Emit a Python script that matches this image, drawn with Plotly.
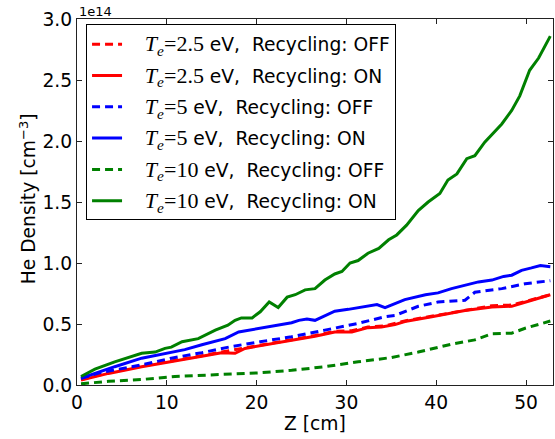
import plotly.graph_objects as go

# Values in units of 1e14 cm^-3
z_r_off = [0.45, 3.5, 7.2, 10.5, 13.9, 16.1, 17.6, 18.7, 22.0, 24.3, 26.5, 28.7, 30.6, 32.4, 34.3, 36.5, 39.5, 43.2, 46.2, 48.4, 50.6, 52.7]
n_r_off = [0.045, 0.10, 0.155, 0.195, 0.24, 0.27, 0.29, 0.30, 0.345, 0.375, 0.405, 0.44, 0.445, 0.475, 0.485, 0.525, 0.565, 0.615, 0.65, 0.655, 0.70, 0.74]

z_r_on = [0.45, 3.5, 7.2, 10.5, 13.9, 16.1, 17.6, 18.7, 22.0, 24.3, 26.5, 28.7, 30.6, 32.4, 33.9, 35.4, 36.5, 39.5, 43.2, 46.2, 48.4, 49.5, 50.6, 52.7]
n_r_on = [0.04, 0.095, 0.15, 0.19, 0.235, 0.265, 0.26, 0.30, 0.34, 0.37, 0.40, 0.435, 0.435, 0.47, 0.475, 0.495, 0.52, 0.56, 0.61, 0.64, 0.645, 0.67, 0.695, 0.74]

z_b_off = [0.45, 2.5, 7.2, 10.5, 13.9, 17.2, 20.4, 23.9, 27.6, 31.3, 34.3, 35.4, 38.0, 40.2, 43.2, 44.3, 47.3, 49.9, 52.7]
n_b_off = [0.055, 0.10, 0.165, 0.22, 0.265, 0.315, 0.355, 0.395, 0.45, 0.505, 0.56, 0.57, 0.645, 0.68, 0.695, 0.76, 0.79, 0.83, 0.855]

z_b_on = [0.45, 2.0, 4.2, 7.2, 9.8, 12.0, 13.9, 15.4, 16.5, 18.0, 19.5, 20.9, 22.2, 23.9, 24.7, 25.6, 26.5, 27.6, 28.7, 30.2, 31.7, 33.4, 34.3, 35.4, 36.5, 38.8, 40.2, 41.7, 43.2, 44.7, 46.2, 47.5, 48.4, 49.5, 50.6, 51.6, 52.7]
n_b_on = [0.055, 0.095, 0.15, 0.22, 0.26, 0.29, 0.33, 0.36, 0.38, 0.435, 0.455, 0.47, 0.49, 0.51, 0.53, 0.54, 0.53, 0.57, 0.605, 0.62, 0.64, 0.66, 0.635, 0.67, 0.70, 0.74, 0.755, 0.79, 0.82, 0.845, 0.86, 0.89, 0.90, 0.94, 0.96, 0.98, 0.97]

z_g_off = [0.45, 3.5, 7.2, 10.9, 17.2, 20.4, 23.9, 27.6, 31.3, 35.0, 38.0, 41.7, 44.3, 46.2, 48.4, 49.9, 51.8, 52.7]
n_g_off = [0.01, 0.03, 0.045, 0.07, 0.09, 0.10, 0.12, 0.15, 0.19, 0.225, 0.27, 0.335, 0.37, 0.42, 0.425, 0.465, 0.505, 0.525]

z_g_on = [0.45, 2.0, 4.2, 7.2, 8.7, 9.8, 10.5, 11.7, 13.5, 15.4, 16.8, 17.6, 18.3, 19.5, 20.4, 21.4, 22.4, 23.4, 24.3, 25.4, 26.5, 27.6, 28.7, 29.5, 30.4, 31.3, 32.4, 33.6, 34.7, 35.6, 36.7, 38.0, 39.1, 40.4, 41.3, 42.3, 43.4, 44.3, 45.4, 47.3, 48.4, 49.3, 50.4, 51.4, 52.7]
n_g_on = [0.07, 0.13, 0.19, 0.26, 0.27, 0.30, 0.31, 0.355, 0.38, 0.45, 0.49, 0.53, 0.55, 0.55, 0.60, 0.68, 0.635, 0.72, 0.74, 0.78, 0.79, 0.86, 0.91, 0.93, 1.00, 1.02, 1.08, 1.12, 1.19, 1.23, 1.31, 1.43, 1.50, 1.57, 1.68, 1.73, 1.855, 1.88, 1.99, 2.14, 2.25, 2.37, 2.58, 2.68, 2.86]

temps = ["2.5", "2.5", "5", "5", "10", "10"]
states = ["OFF", "ON", "OFF", "ON", "OFF", "ON"]
colors = ["#ff0000", "#ff0000", "#0000ff", "#0000ff", "#008000", "#008000"]
zs = [z_r_off, z_r_on, z_b_off, z_b_on, z_g_off, z_g_on]
ns = [n_r_off, n_r_on, n_b_off, n_b_on, n_g_off, n_g_on]

FONT = "DejaVu Sans"
SERIF = "Liberation Serif"

fig = go.Figure()
for i in range(6):
    label = ("&nbsp;&nbsp;&nbsp;"
             f"<span style=\"font-family:'{SERIF}'; font-size:22px\"><i>T</i><sub><i>e</i></sub>=</span>"
             f"<span style=\"font-family:'{SERIF}'; font-size:22px\">{temps[i]}</span>"
             f" eV,&nbsp; Recycling: {states[i]}")
    fig.add_trace(go.Scatter(
        x=zs[i], y=ns[i], mode="lines", name=label,
        legendgroup=f"g{i}",
        line=dict(color=colors[i], width=3,
                  dash=("8px,5px" if states[i] == "OFF" else "solid")),
    ))

axis_common = dict(
    showline=True, linecolor="#222222", linewidth=1.2, mirror="allticks",
    ticks="inside", ticklen=5, tickwidth=1, tickcolor="#222222",
    showgrid=False, zeroline=False,
    tickfont=dict(family=FONT, size=18.7, color="black"),
)

fig.update_layout(
    width=555, height=439,
    margin=dict(l=77, r=2, t=19, b=54),
    paper_bgcolor="white", plot_bgcolor="white",
    xaxis=dict(range=[0, 53], tickvals=[0, 10, 20, 30, 40, 50], **axis_common),
    yaxis=dict(range=[0, 3.0], tickvals=[0, 0.5, 1.0, 1.5, 2.0, 2.5, 3.0],
               tickformat=".1f", **axis_common),
    legend=dict(
        x=0.019, y=0.985, xanchor="left", yanchor="top",
        bgcolor="white", bordercolor="black", borderwidth=1,
        font=dict(family=FONT, size=18.7, color="black"),
        tracegroupgap=4, itemwidth=30,
    ),
    showlegend=True,
    annotations=[
        dict(text="1e14", xref="paper", yref="paper", x=0, y=1, xanchor="left",
             yanchor="bottom", showarrow=False, yshift=-2,
             font=dict(family=FONT, size=13, color="black")),
        dict(text="Z [cm]", xref="paper", yref="paper", x=0.5, y=-0.104,
             xanchor="center", yanchor="middle", showarrow=False,
             font=dict(family=FONT, size=18.7, color="black")),
        dict(text="He Density [cm<sup>−3</sup>]", xref="paper", yref="paper",
             x=-0.103, y=0.51, xanchor="center", yanchor="middle", textangle=-90,
             showarrow=False, font=dict(family=FONT, size=18.7, color="black")),
    ],
)

fig.write_html("out.html", config={"displayModeBar": False},
               post_script="document.body.style.margin='0';")
